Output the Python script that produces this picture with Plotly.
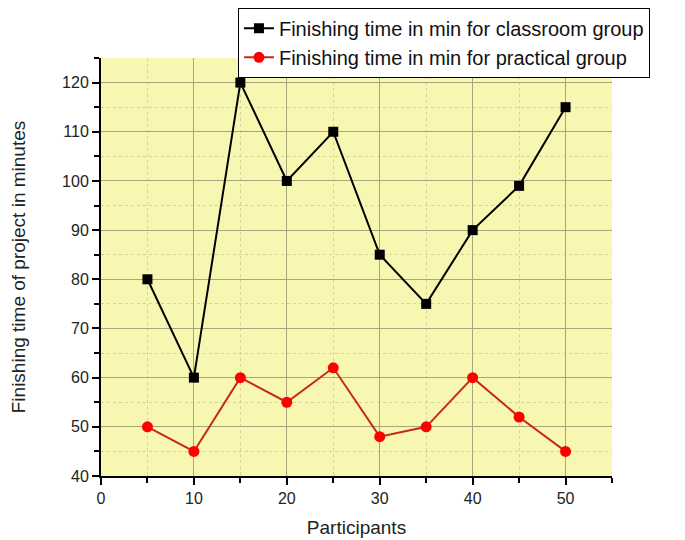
import plotly.graph_objects as go

participants = [5, 10, 15, 20, 25, 30, 35, 40, 45, 50]
classroom = [80, 60, 120, 100, 110, 85, 75, 90, 99, 115]
practical = [50, 45, 60, 55, 62, 48, 50, 60, 52, 45]

fig = go.Figure()
fig.add_trace(go.Scatter(
    x=participants, y=classroom, mode="lines+markers",
    name="Finishing time in min for classroom group",
    line=dict(color="black", width=2),
    marker=dict(symbol="square", size=10, color="black"),
))
fig.add_trace(go.Scatter(
    x=participants, y=practical, mode="lines+markers",
    name="Finishing time in min for practical group",
    line=dict(color="#C42A18", width=2),
    marker=dict(symbol="circle", size=11, color="#FF0000"),
))

FONT = "Arial, Liberation Sans"
axis_common = dict(
    showline=True, linecolor="black", linewidth=2,
    ticks="outside", ticklen=7, tickwidth=2, tickcolor="black",
    gridcolor="#A8A67E", gridwidth=1.2,
    tickfont=dict(family=FONT, size=16, color="#222"),
    zeroline=False,
)

fig.update_xaxes(
    range=[0, 55], dtick=10, tick0=0,
    minor=dict(dtick=5, ticks="outside", ticklen=5, tickwidth=2, tickcolor="black",
               showgrid=True, gridcolor="#D6D49C", griddash="dot", gridwidth=1),
    title=dict(text="Participants", font=dict(family=FONT, size=19, color="#222"), standoff=14),
    **axis_common,
)
fig.update_yaxes(
    range=[40, 125], dtick=10, tick0=40,
    minor=dict(dtick=5, ticks="outside", ticklen=5, tickwidth=2, tickcolor="black",
               showgrid=True, gridcolor="#D6D49C", griddash="dot", gridwidth=1),
    title=dict(text="Finishing time of project in minutes", font=dict(family=FONT, size=19, color="#222"), standoff=38),
    **axis_common,
)

fig.update_layout(
    width=677, height=532,
    margin=dict(l=93, r=73, t=50, b=64, autoexpand=False),
    plot_bgcolor="#F8F7B2",
    paper_bgcolor="white",
    showlegend=True,
    legend=dict(
        x=0.268, y=1.12, xanchor="left", yanchor="top",
        bgcolor="white", bordercolor="black", borderwidth=1,
        font=dict(family=FONT, size=20, color="#111"),
        tracegroupgap=0, itemwidth=30,
    ),
)

fig.write_html("out.html")
